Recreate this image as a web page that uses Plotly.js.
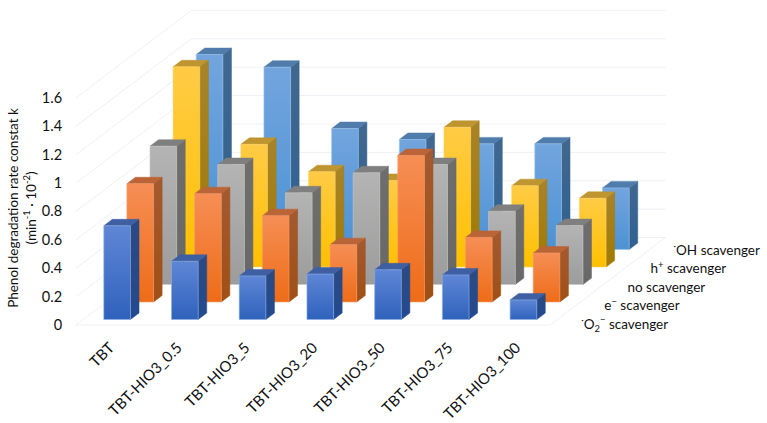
<!DOCTYPE html>
<html><head><meta charset="utf-8">
<script src="https://cdn.plot.ly/plotly-3.0.1.min.js"></script>
<style>html,body{margin:0;padding:0;background:#fff}</style></head>
<body><div id="chart" style="width:767px;height:423px"></div>
<script>
const categories = ["TBT","TBT-HIO3_0.5","TBT-HIO3_5","TBT-HIO3_20","TBT-HIO3_50","TBT-HIO3_75","TBT-HIO3_100"];
const seriesNames = ["<sup>·</sup>O<sub>2</sub><sup>−</sup> scavenger","e<sup>−</sup> scavenger","no scavenger","h<sup>+</sup> scavenger","<sup>·</sup>OH scavenger"];
const o2Scavenger = [0.66,0.41,0.307,0.32,0.35,0.314,0.138];
const eScavenger  = [0.833,0.763,0.608,0.404,1.032,0.455,0.345];
const noScavenger = [0.974,0.845,0.646,0.787,0.845,0.516,0.415];
const hScavenger  = [1.41,0.864,0.671,0.61,0.984,0.573,0.484];
const ohScavenger = [1.373,1.284,0.852,0.775,0.744,0.744,0.434];
const seriesValues = [o2Scavenger,eScavenger,noScavenger,hScavenger,ohScavenger];
const yTicks = [0,0.2,0.4,0.6,0.8,1,1.2,1.4,1.6];
// front-top, front-bottom, side-top, side-bottom, top, edge
const palette = [
 ["#5F86D6","#2F62BC","#2A4A82","#234A90","#3F5FA3","#8FB0E6"],
 ["#F68E55","#EE6C17","#A45A30","#A04F15","#BA6437","#F6A070"],
 ["#B4B4B4","#9C9C9C","#6E6E6E","#686868","#7F7F7F","#C8C8C8"],
 ["#FFCB45","#FFC000","#A8832A","#A07A00","#BF9530","#FFD466"],
 ["#72A5DE","#4C92D4","#41688F","#2F6090","#4F7CAB","#9CC3EC"]
];
const gridColor = "#EDF0F5", floorColor = "#F0F0F0";
// oblique projection constants
const depthX = 0.3412, depthY = 0.1232;   // data units per row of depth
const barW = 0.394, gapX = 0.303;         // in category widths
const barD = 0.37, gapD = 0.315;          // in rows
const labelSpread = 1.055;
const projX = (c,d)=>c+depthX*d, projY=(v,d)=>v+depthY*d;
function poly(pts,opt){
  return Object.assign({type:"scatter",mode:"lines",fill:"toself",hoverinfo:"skip",showlegend:false,
    x:pts.map(p=>projX(p[0],p[1])),y:pts.map(p=>projY(p[2],p[1]))},opt);
}
function grad(a,b){return {type:"vertical",colorscale:[[0,b],[1,a]]};}
const traces=[];
const nC=categories.length,nS=seriesValues.length;
// floor
traces.push(poly([[0,0,0],[nC,0,0],[nC,nS,0],[0,nS,0],[0,0,0]],{fillcolor:"rgba(255,255,255,0)",line:{color:floorColor,width:1}}));
// gridlines
let gx=[],gy=[];
yTicks.forEach(v=>{ if(v===0) return;
  [[0,0],[0,nS],[nC,nS]].forEach(p=>{gx.push(projX(p[0],p[1]));gy.push(projY(v,p[1]));});gx.push(null);gy.push(null);});
traces.push({type:"scatter",mode:"lines",x:gx,y:gy,hoverinfo:"skip",showlegend:false,line:{color:gridColor,width:1}});
// bars back to front
for(let s=nS-1;s>=0;s--){
  const col=palette[s];
  for(let c=0;c<nC;c++){
    const v=seriesValues[s][c];
    const x0=c+gapX,x1=x0+barW,d0=s+gapD,d1=d0+barD;
    traces.push(poly([[x1,d0,0],[x1,d1,0],[x1,d1,v],[x1,d0,v],[x1,d0,0]],{fillgradient:grad(col[2],col[3]),line:{color:col[3],width:0.5}}));
    traces.push(poly([[x0,d0,v],[x1,d0,v],[x1,d1,v],[x0,d1,v],[x0,d0,v]],{fillcolor:col[4],line:{color:col[4],width:0.5}}));
    traces.push(poly([[x0,d0,0],[x1,d0,0],[x1,d0,v],[x0,d0,v],[x0,d0,0]],{fillgradient:grad(col[0],col[1]),line:{color:col[5],width:0.6}}));
  }
}
// series labels
traces.push({type:"scatter",mode:"text",hoverinfo:"skip",showlegend:false,
  x:seriesNames.map((n,i)=>projX(nC+0.29,i+0.5)),
  y:seriesNames.map((n,i)=>projY(-0.065,(i*labelSpread)+0.5)),
  text:seriesNames,textposition:"middle right",textfont:{family:"Lato, Carlito, sans-serif",size:13.5,color:"#111"}});
const font={family:"Lato, Carlito, sans-serif",size:14.5,color:"#111"};
const xfont={family:"Lato, Carlito, sans-serif",size:15,color:"#111"};
const layout={width:767,height:423,margin:{l:76,r:0,t:5,b:12},paper_bgcolor:"#fff",plot_bgcolor:"rgba(0,0,0,0)",
  showlegend:false,font:font,
  xaxis:{range:[0,691/67.714],anchor:"free",position:86/406,tickmode:"array",tickvals:categories.map((n,i)=>i+0.5),ticktext:categories,tickangle:-45,
    showgrid:false,zeroline:false,showline:false,ticks:"outside",ticklen:7,tickcolor:"rgba(0,0,0,0)",tickfont:xfont},
  yaxis:{range:[-86/142,320/142],tickmode:"array",tickvals:yTicks,ticktext:yTicks.map(String),automargin:true,
    showgrid:false,zeroline:false,showline:false,ticks:"outside",ticklen:10,tickcolor:"rgba(0,0,0,0)",tickfont:font,
    title:{text:"Phenol degradation rate constat k<br>(min<sup>-1</sup> · 10<sup>-2</sup>)",font:{family:font.family,size:13.5,color:"#111"},standoff:2}}
};
Plotly.newPlot("chart",traces,layout,{displayModeBar:false,staticPlot:true});
</script></body></html>
